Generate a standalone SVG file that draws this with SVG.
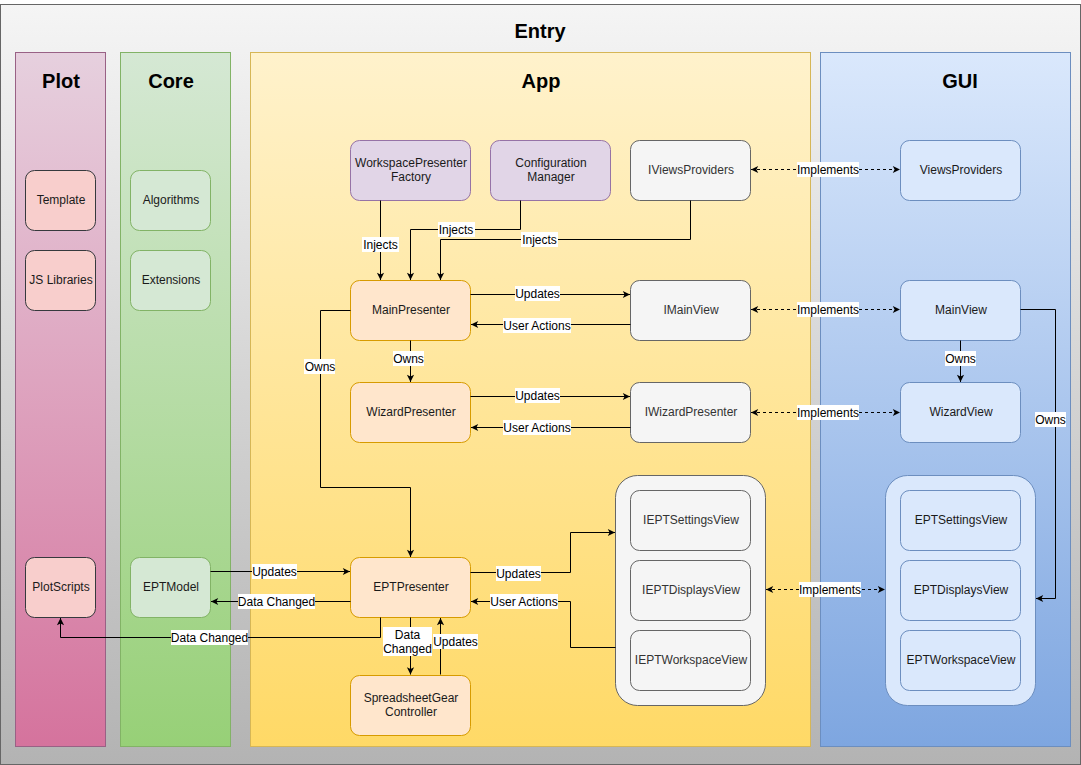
<svg xmlns="http://www.w3.org/2000/svg" width="1081" height="765" viewBox="0 0 1081 765">
<defs>
<linearGradient id="gEntry" x1="0" y1="0" x2="0" y2="1"><stop offset="0" stop-color="#f5f5f5"/><stop offset="1" stop-color="#b3b3b3"/></linearGradient>
<linearGradient id="gPlot" x1="0" y1="0" x2="0" y2="1"><stop offset="0" stop-color="#e6d0de"/><stop offset="1" stop-color="#d5739d"/></linearGradient>
<linearGradient id="gCore" x1="0" y1="0" x2="0" y2="1"><stop offset="0" stop-color="#d5e8d4"/><stop offset="1" stop-color="#97d077"/></linearGradient>
<linearGradient id="gApp" x1="0" y1="0" x2="0" y2="1"><stop offset="0" stop-color="#fff2cc"/><stop offset="1" stop-color="#ffd966"/></linearGradient>
<linearGradient id="gGui" x1="0" y1="0" x2="0" y2="1"><stop offset="0" stop-color="#dae8fc"/><stop offset="1" stop-color="#7ea6e0"/></linearGradient>
<marker id="arr" viewBox="0 0 10 10" refX="9" refY="5" markerWidth="9" markerHeight="9" orient="auto-start-reverse" markerUnits="userSpaceOnUse"><path d="M1,1 L9,5 L1,9 L3,5 z" fill="#000"/></marker>
</defs>
<style>
text{font-family:"Liberation Sans",Arial,sans-serif;font-size:12px;text-anchor:middle;}
.title{font-size:20px;font-weight:bold;fill:#000;}
.n{fill:#1a1a1a;}
.g{fill:#333333;}
.pink{fill:#f8cecc;stroke:#36393d;}
.green{fill:#d5e8d4;stroke:#82b366;}
.purple{fill:#e1d5e7;stroke:#9673a6;}
.orange{fill:#ffe6cc;stroke:#d79b00;}
.gray{fill:#f5f5f5;stroke:#666666;}
.blue{fill:#dae8fc;stroke:#6c8ebf;}
.e{fill:none;stroke:#000;stroke-width:1;}
.d{stroke-dasharray:3 3;}
.lb{fill:#fff;}
.lt{fill:#000;}
</style>
<g id="entry"><rect x="0.5" y="4.5" width="1080" height="760" fill="url(#gEntry)" stroke="#666666"/><text class="title" x="540" y="38">Entry</text></g>
<g id="lane-plot"><rect x="15.5" y="52.5" width="90" height="694" fill="url(#gPlot)" stroke="#996185"/><text class="title" x="61" y="88">Plot</text></g>
<g id="lane-core"><rect x="120.5" y="52.5" width="110" height="694" fill="url(#gCore)" stroke="#82b366"/><text class="title" x="171" y="88">Core</text></g>
<g id="lane-app"><rect x="250.5" y="52.5" width="560" height="694" fill="url(#gApp)" stroke="#d6b656"/><text class="title" x="541" y="88">App</text></g>
<g id="lane-gui"><rect x="820.5" y="52.5" width="250" height="694" fill="url(#gGui)" stroke="#6c8ebf"/><text class="title" x="960" y="88">GUI</text></g>

<g id="template"><rect class="pink" x="25.5" y="170.5" width="70" height="60" rx="9"/><text class="n" x="61" y="204">Template</text></g>
<g id="jslibs"><rect class="pink" x="25.5" y="250.5" width="70" height="60" rx="9"/><text class="n" x="61" y="284">JS Libraries</text></g>
<g id="plotscripts"><rect class="pink" x="25.5" y="557.5" width="70" height="60" rx="9"/><text class="n" x="61" y="591">PlotScripts</text></g>
<g id="algorithms"><rect class="green" x="130.5" y="170.5" width="80" height="60" rx="9"/><text class="n" x="171" y="204">Algorithms</text></g>
<g id="extensions"><rect class="green" x="130.5" y="250.5" width="80" height="60" rx="9"/><text class="n" x="171" y="284">Extensions</text></g>
<g id="eptmodel"><rect class="green" x="130.5" y="557.5" width="80" height="60" rx="9"/><text class="n" x="171" y="591">EPTModel</text></g>

<g id="wpfactory"><rect class="purple" x="350.5" y="140.5" width="120" height="60" rx="9"/><text class="n" x="411" y="167">WorkspacePresenter</text><text class="n" x="411" y="181">Factory</text></g>
<g id="configmgr"><rect class="purple" x="490.5" y="140.5" width="120" height="60" rx="9"/><text class="n" x="551" y="167">Configuration</text><text class="n" x="551" y="181">Manager</text></g>
<g id="iviewsproviders"><rect class="gray" x="630.5" y="140.5" width="120" height="60" rx="9"/><text class="g" x="691" y="174">IViewsProviders</text></g>
<g id="mainpresenter"><rect class="orange" x="350.5" y="280.5" width="120" height="60" rx="9"/><text class="n" x="411" y="314">MainPresenter</text></g>
<g id="imainview"><rect class="gray" x="630.5" y="280.5" width="120" height="60" rx="9"/><text class="g" x="691" y="314">IMainView</text></g>
<g id="wizardpresenter"><rect class="orange" x="350.5" y="382.5" width="120" height="60" rx="9"/><text class="n" x="411" y="416">WizardPresenter</text></g>
<g id="iwizardpresenter"><rect class="gray" x="630.5" y="382.5" width="120" height="60" rx="9"/><text class="g" x="691" y="416">IWizardPresenter</text></g>
<g id="eptpresenter"><rect class="orange" x="350.5" y="557.5" width="120" height="60" rx="9"/><text class="n" x="411" y="591">EPTPresenter</text></g>
<g id="ssgcontroller"><rect class="orange" x="350.5" y="675.5" width="120" height="60" rx="9"/><text class="n" x="411" y="702">SpreadsheetGear</text><text class="n" x="411" y="716">Controller</text></g>
<g id="iept-group"><rect class="gray" x="615.5" y="475.5" width="150" height="230" rx="22"/>
<rect class="gray" x="630.5" y="490.5" width="120" height="60" rx="9"/><text class="g" x="691" y="524">IEPTSettingsView</text>
<rect class="gray" x="630.5" y="560.5" width="120" height="60" rx="9"/><text class="g" x="691" y="594">IEPTDisplaysView</text>
<rect class="gray" x="630.5" y="630.5" width="120" height="60" rx="9"/><text class="g" x="691" y="664">IEPTWorkspaceView</text></g>

<g id="viewsproviders"><rect class="blue" x="900.5" y="140.5" width="120" height="60" rx="9"/><text class="n" x="961" y="174">ViewsProviders</text></g>
<g id="mainview"><rect class="blue" x="900.5" y="280.5" width="120" height="60" rx="9"/><text class="n" x="961" y="314">MainView</text></g>
<g id="wizardview"><rect class="blue" x="900.5" y="382.5" width="120" height="60" rx="9"/><text class="n" x="961" y="416">WizardView</text></g>
<g id="ept-group"><rect class="blue" x="885.5" y="475.5" width="150" height="230" rx="22"/>
<rect class="blue" x="900.5" y="490.5" width="120" height="60" rx="9"/><text class="n" x="961" y="524">EPTSettingsView</text>
<rect class="blue" x="900.5" y="560.5" width="120" height="60" rx="9"/><text class="n" x="961" y="594">EPTDisplaysView</text>
<rect class="blue" x="900.5" y="630.5" width="120" height="60" rx="9"/><text class="n" x="961" y="664">EPTWorkspaceView</text></g>

<g id="connectors">
<path class="e" d="M380.5,200.5 V280" marker-end="url(#arr)"/>
<path class="e" d="M520.5,200.5 V229.5 H410.5 V280" marker-end="url(#arr)"/>
<path class="e" d="M690.5,200.5 V239.5 H440.5 V280" marker-end="url(#arr)"/>
<path class="e" d="M470.5,294.5 H630" marker-end="url(#arr)"/>
<path class="e" d="M630.5,324.5 H471" marker-end="url(#arr)"/>
<path class="e" d="M410.5,340.5 V382" marker-end="url(#arr)"/>
<path class="e" d="M350.5,310.5 H320.5 V487.5 H410.5 V557" marker-end="url(#arr)"/>
<path class="e" d="M470.5,396.5 H630" marker-end="url(#arr)"/>
<path class="e" d="M630.5,427.5 H471" marker-end="url(#arr)"/>
<path class="e d" d="M751,169.5 H900" marker-start="url(#arr)" marker-end="url(#arr)"/>
<path class="e d" d="M751,309.5 H900" marker-start="url(#arr)" marker-end="url(#arr)"/>
<path class="e d" d="M751,412.5 H900" marker-start="url(#arr)" marker-end="url(#arr)"/>
<path class="e d" d="M766,589.5 H885" marker-start="url(#arr)" marker-end="url(#arr)"/>
<path class="e" d="M960.5,340.5 V382" marker-end="url(#arr)"/>
<path class="e" d="M1020.5,309.5 H1055.5 V598.5 H1036" marker-end="url(#arr)"/>
<path class="e" d="M210.5,571.5 H350" marker-end="url(#arr)"/>
<path class="e" d="M350.5,601.5 H211" marker-end="url(#arr)"/>
<path class="e" d="M380.5,617.5 V637.5 H60.5 V618" marker-end="url(#arr)"/>
<path class="e" d="M410.5,617.5 V674.5" marker-end="url(#arr)"/>
<path class="e" d="M440.5,674.5 V618" marker-end="url(#arr)"/>
<path class="e" d="M470.5,572.5 H570.5 V532.5 H615" marker-end="url(#arr)"/>
<path class="e" d="M615.5,647.5 H570.5 V601.5 H471" marker-end="url(#arr)"/>

<g id="labels">
<rect class="lb" x="362" y="237" width="37" height="15"/><text class="lt" x="380.5" y="249">Injects</text>
<rect class="lb" x="438" y="222" width="37" height="15"/><text class="lt" x="456" y="234">Injects</text>
<rect class="lb" x="521" y="232" width="37" height="15"/><text class="lt" x="539.5" y="244">Injects</text>
<rect class="lb" x="515" y="286" width="45" height="15"/><text class="lt" x="537.5" y="298">Updates</text>
<rect class="lb" x="503" y="318" width="68" height="15"/><text class="lt" x="537" y="330">User Actions</text>
<rect class="lb" x="393" y="351" width="31" height="15"/><text class="lt" x="408.5" y="363">Owns</text>
<rect class="lb" x="304" y="359" width="31" height="15"/><text class="lt" x="320" y="371">Owns</text>
<rect class="lb" x="515" y="388" width="45" height="15"/><text class="lt" x="537.5" y="400">Updates</text>
<rect class="lb" x="503" y="420" width="68" height="15"/><text class="lt" x="537" y="432">User Actions</text>
<rect class="lb" x="797" y="162" width="62" height="15"/><text class="lt" x="828" y="174">Implements</text>
<rect class="lb" x="797" y="302" width="62" height="15"/><text class="lt" x="828" y="314">Implements</text>
<rect class="lb" x="797" y="405" width="62" height="15"/><text class="lt" x="828" y="417">Implements</text>
<rect class="lb" x="799" y="582" width="62" height="15"/><text class="lt" x="830" y="594">Implements</text>
<rect class="lb" x="945" y="351" width="31" height="15"/><text class="lt" x="960.5" y="363">Owns</text>
<rect class="lb" x="1035" y="412" width="31" height="15"/><text class="lt" x="1050.5" y="424">Owns</text>
<rect class="lb" x="252" y="564" width="45" height="15"/><text class="lt" x="274.5" y="576">Updates</text>
<rect class="lb" x="238" y="594" width="77" height="15"/><text class="lt" x="276.5" y="606">Data Changed</text>
<rect class="lb" x="171" y="630" width="77" height="15"/><text class="lt" x="209.5" y="642">Data Changed</text>
<rect class="lb" x="383" y="627" width="49" height="29"/><text class="lt" x="407.5" y="639">Data</text><text class="lt" x="407.5" y="653">Changed</text>
<rect class="lb" x="433" y="634" width="45" height="15"/><text class="lt" x="455.5" y="646">Updates</text>
<rect class="lb" x="496" y="566" width="45" height="15"/><text class="lt" x="518.5" y="578">Updates</text>
<rect class="lb" x="490" y="594" width="68" height="15"/><text class="lt" x="524" y="606">User Actions</text>
</g>
</g>
</svg>
